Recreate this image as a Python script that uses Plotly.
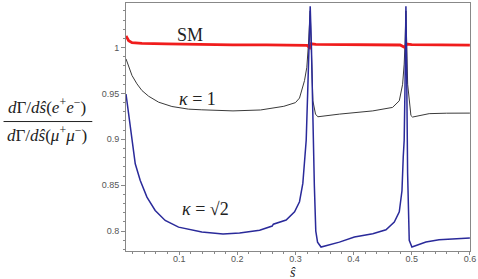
import plotly.graph_objects as go

# ---- data ----
sm_x = [0.0086, 0.0132, 0.0189, 0.036, 0.078, 0.139, 0.192, 0.25, 0.30, 0.32, 0.3245, 0.327, 0.335,
        0.40, 0.45, 0.48, 0.4885, 0.491, 0.50, 0.55, 0.60]
sm_y = [1.0127, 1.0076, 1.0054, 1.0046, 1.0040, 1.0032, 1.0030, 1.0029, 1.0027, 1.0024, 1.0000,
        1.0042, 1.0036, 1.0032, 1.0030, 1.0028, 1.0000, 1.0038, 1.0033, 1.0029, 1.0026]

k1_x = [0.0086, 0.0132, 0.0189, 0.0274, 0.036, 0.0475, 0.0647, 0.0875, 0.1161, 0.139, 0.1926, 0.24,
        0.28, 0.30, 0.307, 0.3156, 0.3196, 0.3225, 0.3254, 0.3275, 0.330, 0.3345, 0.3385, 0.3756,
        0.433, 0.467, 0.4786, 0.4843, 0.487, 0.4885, 0.4900, 0.4930, 0.4986, 0.5014, 0.53, 0.56, 0.60]
k1_y = [0.9877, 0.9786, 0.9696, 0.9605, 0.9532, 0.947, 0.9405, 0.9358, 0.9329, 0.9322, 0.931, 0.932,
        0.936, 0.940, 0.945, 0.964, 0.9786, 1.005, 1.040, 0.995, 0.942, 0.9275, 0.9246, 0.9275,
        0.931, 0.9348, 0.942, 0.960, 0.982, 1.005, 1.040, 0.960, 0.926, 0.9243, 0.928, 0.9285, 0.9286]

k2_x = [0.0086, 0.0132, 0.0189, 0.0245, 0.0331, 0.0446, 0.0588, 0.076, 0.099, 0.1218, 0.139, 0.1755,
        0.204, 0.2384, 0.2600, 0.2620, 0.284, 0.2985, 0.307, 0.3127, 0.3168, 0.3185, 0.321, 0.3235,
        0.3254, 0.3275, 0.330, 0.3325, 0.335, 0.338, 0.344, 0.3756, 0.4014, 0.433, 0.4557, 0.470,
        0.4786, 0.4832, 0.4854, 0.487, 0.4885, 0.4900, 0.4915, 0.4929, 0.4957, 0.5003, 0.5244, 0.547, 0.60]
k2_y = [0.9493, 0.9276, 0.9004, 0.8733, 0.8551, 0.837, 0.8225, 0.8116, 0.8043, 0.8008, 0.7989, 0.7967,
        0.798, 0.801, 0.8055, 0.8075, 0.812, 0.821, 0.832, 0.852, 0.881, 0.899, 0.950, 1.000,
        1.045, 1.000, 0.910, 0.850, 0.800, 0.788, 0.7826, 0.788, 0.7935, 0.797, 0.8015, 0.8098,
        0.821, 0.844, 0.881, 0.899, 0.960, 1.045, 0.960, 0.863, 0.790, 0.7826, 0.788, 0.7905, 0.7925]

x_ticks = [0.1, 0.2, 0.3, 0.4, 0.5, 0.6]
x_ticklabels = ["0.1", "0.2", "0.3", "0.4", "0.5", "0.6"]
y_ticks = [0.8, 0.85, 0.9, 0.95, 1.0]
y_ticklabels = ["0.8", "0.85", "0.9", "0.95", "1"]

fig = go.Figure()
fig.add_trace(go.Scatter(x=k1_x, y=k1_y, mode="lines", line=dict(color="#3a3a3a", width=1), hoverinfo="skip"))
fig.add_trace(go.Scatter(x=sm_x, y=sm_y, mode="lines", line=dict(color="#f01c1c", width=2.8), hoverinfo="skip"))
fig.add_trace(go.Scatter(x=k2_x, y=k2_y, mode="lines", line=dict(color="#2a2a9a", width=1.5), hoverinfo="skip"))

serif = "Liberation Serif"
tickfont = dict(family="Liberation Sans, Arial", size=9, color="#555555")

fig.update_layout(
    width=478, height=279,
    margin=dict(l=126, r=6, t=2, b=28),
    paper_bgcolor="white", plot_bgcolor="white",
    showlegend=False,
    xaxis=dict(range=[0.0086, 0.6002], tickvals=x_ticks, ticktext=x_ticklabels, showgrid=False, zeroline=False,
               showline=True, linecolor="#888888", linewidth=1, mirror=True,
               ticks="outside", ticklen=3, tickcolor="#888888", tickfont=tickfont,
               ticklabelstandoff=-4, ticklabeloverflow="allow",
               minor=dict(dtick=0.02, tick0=0, ticks="outside", ticklen=2, tickcolor="#888888")),
    yaxis=dict(range=[0.7783, 1.0486], tickvals=y_ticks, ticktext=y_ticklabels, showgrid=False, zeroline=False,
               showline=True, linecolor="#888888", linewidth=1, mirror=True,
               ticks="outside", ticklen=4, tickcolor="#888888", tickfont=tickfont,
               minor=dict(dtick=0.01, tick0=0.8, ticks="outside", ticklen=2, tickcolor="#888888")),
)

ann = [
    dict(x=0.118, y=1.0142, text="SM"),
    dict(x=0.132, y=0.9435, text="<i>κ</i> = 1"),
    dict(x=0.145, y=0.8245, text="<i>κ</i> = √2"),
]
for a in ann:
    fig.add_annotation(x=a["x"], y=a["y"], xref="x", yref="y", text=a["text"], showarrow=False,
                       xanchor="center", yanchor="middle",
                       font=dict(family=serif, size=18, color="#222222"))

fig.add_annotation(x=0.296, y=-0.086, xref="x", yref="paper", text="<i>ŝ</i>", showarrow=False,
                   font=dict(family=serif, size=14, color="#222222"), xanchor="center", yanchor="middle")

fig.add_annotation(x=-0.2285, y=0.585, xref="paper", yref="paper",
                   text="<i>d</i>Γ/<i>dŝ</i>(<i>e</i><sup>+</sup><i>e</i><sup>−</sup>)", showarrow=False,
                   xanchor="center", yanchor="middle",
                   font=dict(family=serif, size=17, color="#222222"))
fig.add_annotation(x=-0.2285, y=0.472, xref="paper", yref="paper",
                   text="<i>d</i>Γ/<i>dŝ</i>(<i>μ</i><sup>+</sup><i>μ</i><sup>−</sup>)", showarrow=False,
                   xanchor="center", yanchor="middle",
                   font=dict(family=serif, size=17, color="#222222"))
fig.add_shape(type="line", xref="paper", yref="paper", x0=-0.356, x1=-0.098, y0=0.522, y1=0.522,
              line=dict(color="#222222", width=1))

fig.write_html("out.html", config={"displayModeBar": False},
               post_script="document.body.style.margin='0';")
